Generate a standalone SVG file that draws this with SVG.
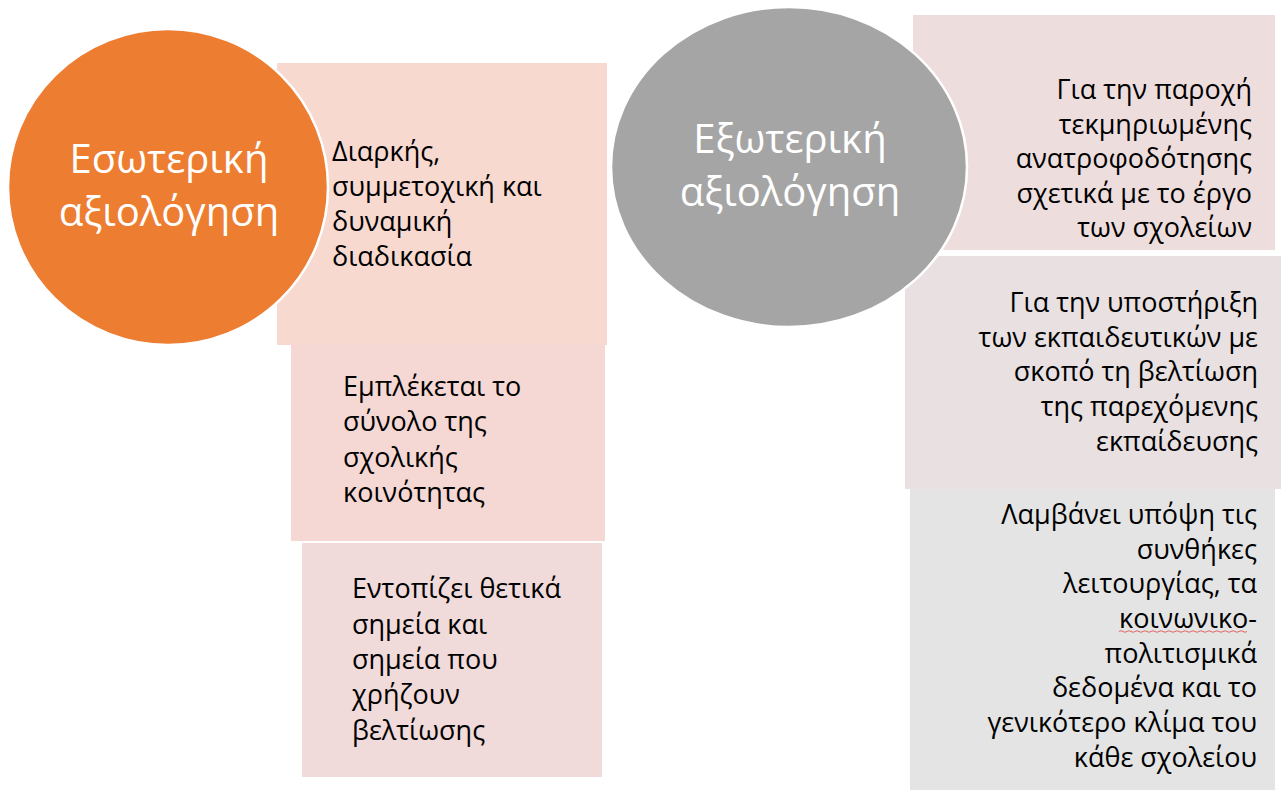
<svg xmlns="http://www.w3.org/2000/svg" width="1281" height="790" viewBox="0 0 1281 790">
<style>
.t{font-family:"Open Sans","Noto Sans","Liberation Sans",sans-serif;font-size:27px;fill:#000}
.r{text-anchor:end}
.c{font-family:"Open Sans","Noto Sans","Liberation Sans",sans-serif;font-size:40px;fill:#fff;text-anchor:middle}
.circ{stroke:#fff;stroke-width:2.5}
</style>
<rect width="1281" height="790" fill="#fff"/>
<g id="box-inner-1"><rect x="277" y="63" width="330" height="282" fill="#F8D9D0"/>
<text class="t"><tspan x="332" y="161">Διαρκής,</tspan><tspan x="332" y="196">συμμετοχική και</tspan><tspan x="332" y="231">δυναμική</tspan><tspan x="332" y="266">διαδικασία</tspan></text></g>
<g id="box-inner-2"><rect x="291" y="344" width="314" height="197" fill="#F5D8D4"/>
<text class="t"><tspan x="343" y="396">Εμπλέκεται το</tspan><tspan x="343" y="431">σύνολο της</tspan><tspan x="343" y="467">σχολικής</tspan><tspan x="343" y="502">κοινότητας</tspan></text></g>
<g id="box-inner-3"><rect x="302" y="543" width="300" height="234" fill="#F0DADA"/>
<text class="t"><tspan x="352" y="598">Εντοπίζει θετικά</tspan><tspan x="352" y="634">σημεία και</tspan><tspan x="352" y="669">σημεία που</tspan><tspan x="352" y="704">χρήζουν</tspan><tspan x="352" y="740">βελτίωσης</tspan></text></g>
<g id="circle-internal"><ellipse class="circ" cx="168" cy="187" rx="160" ry="158" fill="#ED7D31"/>
<text class="c"><tspan x="169" y="173">Εσωτερική</tspan><tspan x="169" y="226">αξιολόγηση</tspan></text></g>
<g id="box-outer-1"><rect x="913" y="15" width="362" height="235" fill="#EEDDDD"/></g>
<g id="box-outer-2"><rect x="905" y="256" width="376" height="233" fill="#E8E0E1"/></g>
<g id="box-outer-3"><rect x="910" y="489" width="365" height="301" fill="#E4E4E4"/>
<path d="M1119 631.5 q2 -1.5 4 0 t4 0 t4 0 t4 0 t4 0 t4 0 t4 0 t4 0 t4 0 t4 0 t4 0 t4 0 t4 0 t4 0 t4 0 t4 0 t4 0 t4 0 t4 0 t4 0 t4 0 t4 0 t4 0 t4 0 t4 0 t4 0 t4 0 t4 0 t4 0 t4 0 t4 0 t4 0" fill="none" stroke="#E06666" stroke-width="1"/></g>
<g id="circle-external"><ellipse class="circ" cx="789" cy="167" rx="178" ry="160" fill="#A5A5A5"/>
<text class="c"><tspan x="790" y="153">Εξωτερική</tspan><tspan x="790" y="206">αξιολόγηση</tspan></text></g>
<g id="texts-outer">
<text class="t r"><tspan x="1252" y="99">Για την παροχή</tspan><tspan x="1252" y="133.5">τεκμηριωμένης</tspan><tspan x="1252" y="168">ανατροφοδότησης</tspan><tspan x="1252" y="202.5">σχετικά με το έργο</tspan><tspan x="1252" y="237">των σχολείων</tspan></text>
<text class="t r"><tspan x="1258" y="312">Για την υποστήριξη</tspan><tspan x="1258" y="346.7">των εκπαιδευτικών με</tspan><tspan x="1258" y="381.4">σκοπό τη βελτίωση</tspan><tspan x="1258" y="416">της παρεχόμενης</tspan><tspan x="1258" y="450.8">εκπαίδευσης</tspan></text>
<text class="t r"><tspan x="1257" y="524">Λαμβάνει υπόψη τις</tspan><tspan x="1257" y="559">συνθήκες</tspan><tspan x="1257" y="593">λειτουργίας, τα</tspan><tspan x="1257" y="628">κοινωνικο-</tspan><tspan x="1257" y="663">πολιτισμικά</tspan><tspan x="1257" y="697">δεδομένα και το</tspan><tspan x="1257" y="732">γενικότερο κλίμα του</tspan><tspan x="1257" y="767">κάθε σχολείου</tspan></text>
</g>
<g id="connectors"></g>
</svg>
